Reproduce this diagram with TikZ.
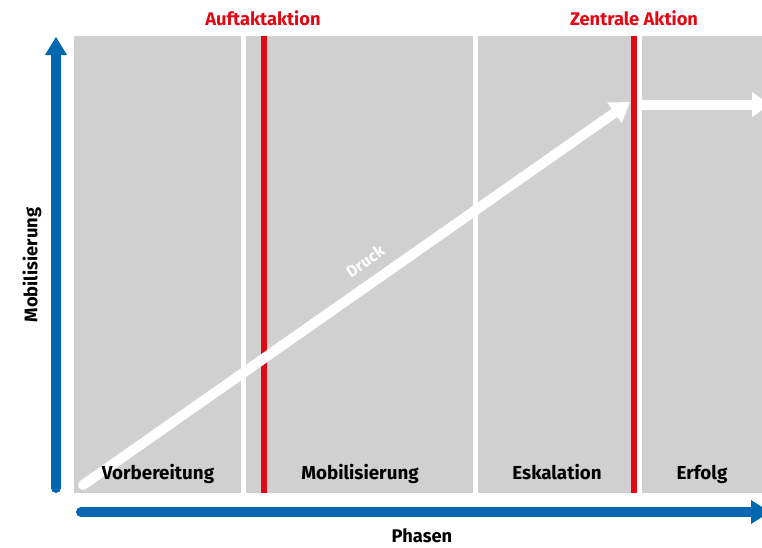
\documentclass[tikz,border=0pt]{standalone}
\usepackage{fontspec}
\setmainfont{Fira Sans}
\usetikzlibrary{arrows.meta}
\definecolor{pgray}{HTML}{D0D0D0}
\definecolor{pblue}{HTML}{0068B1}
\definecolor{pred}{HTML}{E30613}
\tikzset{
  panel/.style={fill=pgray, draw=none},
  redline/.style={draw=pred, line width=6pt},
  phaselabel/.style={font=\fontsize{18.8}{20}\selectfont\bfseries, text=black, anchor=base},
  toplabel/.style={font=\fontsize{18.3}{20}\selectfont\bfseries, text=pred},
  axislabel/.style={font=\fontsize{18.3}{20}\selectfont\bfseries, text=black},
  whitearrow/.style={draw=white, line width=10pt, -{Triangle[length=19pt,width=24pt]}},
}
\begin{document}
\begin{tikzpicture}[x=1pt, y=-1pt]
\useasboundingbox (0,0) rectangle (762,547);
% panels
\fill[panel] (74,36) rectangle (241,493);
\fill[panel] (246,36) rectangle (473,493);
\fill[panel] (478,36) rectangle (637,493);
\fill[panel] (642,36) rectangle (762,493);
% red lines
\coordinate (r1t) at (264,36); \coordinate (r1b) at (264,493);
\coordinate (r2t) at (634,36); \coordinate (r2b) at (634,493);
\draw[redline] (r1t) -- (r1b);
\draw[redline] (r2t) -- (r2b);
% top labels
\node[toplabel] (auf) at (263,18) {Auftaktaktion};
\node[toplabel] (zen) at (634,18) {Zentrale Aktion};
% blue axes
\coordinate (ya) at (56,493); \coordinate (yb) at (56,54);
\draw[pblue, line width=10pt, line cap=round] (56,488) -- (yb);
\fill[pblue] (45,55) -- (67,55) -- (56,37) -- cycle;
\coordinate (xa) at (81,512); \coordinate (xb) at (752,512);
\draw[pblue, line width=10pt, line cap=round] (xa) -- (xb);
\fill[pblue] (751,500) -- (751,524) -- (770,512) -- cycle;
\node[axislabel] (phasen) at (422,536) {Phasen};
\node[axislabel, rotate=90] (ymob) at (32,265) {Mobilisierung};
% white arrows
\coordinate (d0) at (83,485); \coordinate (d1) at (630,102);
\draw[whitearrow, line cap=round] (d0) -- (d1);
\node[font=\fontsize{16}{18}\selectfont\bfseries, text=white, rotate=35, inner sep=0pt] (druck) at (365,261) {Druck};
\coordinate (e0) at (642,104.5); \coordinate (e1) at (770,104.5);
\draw[draw=white, line width=10pt, -{Triangle[length=18pt,width=24pt]}] (e0) -- (e1);
% phase labels (on top of the arrow)
\node[phaselabel] (vor) at (158,479) {Vorbereitung};
\node[phaselabel] (mob) at (360,479) {Mobilisierung};
\node[phaselabel] (esk) at (557,479) {Eskalation};
\node[phaselabel] (erf) at (702,479) {Erfolg};
\end{tikzpicture}
\end{document}
